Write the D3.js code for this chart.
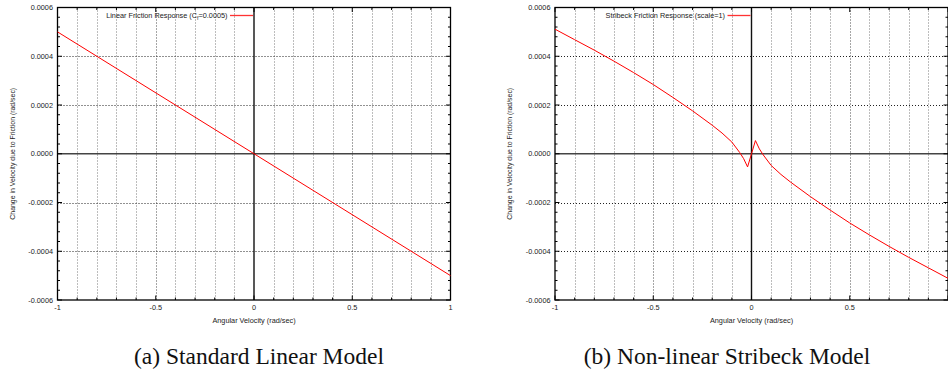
<!DOCTYPE html>
<html><head><meta charset="utf-8">
<script src="https://cdn.jsdelivr.net/npm/d3@7"></script>
<style>
html,body{margin:0;padding:0;background:#fff;}
svg{display:block;}
</style></head>
<body>
<svg id="chart" width="948" height="375"></svg>
<script>
// ---- data ----
const xTicks = [-1, -0.5, 0, 0.5, 1];
const xTickLabels = ["-1", "-0.5", "0", "0.5", "1"];
const xMinorTicks = [-0.9,-0.8,-0.7,-0.6,-0.4,-0.3,-0.2,-0.1,0.1,0.2,0.3,0.4,0.6,0.7,0.8,0.9];
const yTicks = [0.0006, 0.0004, 0.0002, 0, -0.0002, -0.0004, -0.0006];
const yTickLabels = ["0.0006","0.0004","0.0002","0.0000","-0.0002","-0.0004","-0.0006"];
const yMinorTicks = [0.00056,0.00052,0.00048,0.00044,0.00036,0.00032,0.00028,0.00024,0.00016,0.00012,0.00008,0.00004,
                     -0.00004,-0.00008,-0.00012,-0.00016,-0.00024,-0.00028,-0.00032,-0.00036,-0.00044,-0.00048,-0.00052,-0.00056];

const linearX = [-1, 1];
const linearY = [0.0005, -0.0005];

const stribeckX = [-1, -0.9, -0.8, -0.7, -0.6, -0.5, -0.4, -0.3, -0.2, -0.15, -0.1, -0.06, -0.04, -0.02, 0,
                   0.02, 0.04, 0.06, 0.1, 0.15, 0.2, 0.3, 0.4, 0.5, 0.6, 0.7, 0.8, 0.9, 1];
const stribeckY = [0.000511, 0.000468, 0.000425, 0.000380, 0.000333, 0.000284, 0.000231, 0.000176, 0.000117, 0.000085, 0.000048, 0.000005, -0.000020, -0.000054, 0,
                   0.000054, 0.000020, -0.000005, -0.000048, -0.000085, -0.000117, -0.000176, -0.000231, -0.000284, -0.000333, -0.000380, -0.000425, -0.000468, -0.000511];

const xTitle = "Angular Velocity (rad/sec)";
const yTitle = "Change in Velocity due to Friction (rad/sec)";
const captions = ["(a) Standard Linear Model", "(b) Non-linear Stribeck Model"];

// ---- drawing ----
const svg = d3.select("#chart");
const font = "'Liberation Sans', Arial, Helvetica, sans-serif";

const panels = [
  { left: 57.5, xs: linearX, ys: linearY, legend: ["Linear Friction Response (C", "f", "=0.0005)"], caption: captions[0], capX: 259, lastLabel: true },
  { left: 555, xs: stribeckX, ys: stribeckY, legend: ["Stribeck Friction Response (scale=1)"], caption: captions[1], capX: 727, lastLabel: false }
];
const W = 393, plotTop = 7.5, plotBottom = 300;

panels.forEach(p => {
  const x = d3.scaleLinear().domain([-1, 1]).range([p.left, p.left + W]);
  const y = d3.scaleLinear().domain([-0.0006, 0.0006]).range([plotBottom, plotTop]);
  const g = svg.append("g");

  // vertical grid (major + minor)
  const allX = xTicks.concat(xMinorTicks).filter(v => v !== 0 && Math.abs(v) !== 1);
  g.selectAll("line.vg").data(allX).join("line")
    .attr("x1", d => Math.round(x(d)) + 0.5).attr("x2", d => Math.round(x(d)) + 0.5)
    .attr("y1", plotTop).attr("y2", plotBottom)
    .attr("stroke", "#444").attr("stroke-width", 1).attr("stroke-dasharray", "1,2")
    .attr("opacity", d => (Math.abs(d) === 0.5 ? 0.95 : 0.7));
  // horizontal grid
  g.selectAll("line.hg").data(yTicks.filter(v => v !== 0 && Math.abs(v) < 0.0006)).join("line")
    .attr("x1", x(-1)).attr("x2", x(1))
    .attr("y1", d => Math.round(y(d)) + 0.5).attr("y2", d => Math.round(y(d)) + 0.5)
    .attr("stroke", "#222").attr("stroke-width", 1).attr("stroke-dasharray", "1,2");

  // zero axes
  g.append("line").attr("x1", x(-1)).attr("x2", x(1)).attr("y1", y(0)).attr("y2", y(0))
    .attr("stroke", "#444").attr("stroke-width", 1.6);
  g.append("line").attr("x1", x(0)).attr("x2", x(0)).attr("y1", plotTop).attr("y2", plotBottom)
    .attr("stroke", "#111").attr("stroke-width", 1.4);

  // ticks
  const tk = (vals, len) => {
    vals.forEach(v => {
      const yy = y(v);
      g.append("line").attr("x1", x(-1)).attr("x2", x(-1) + len).attr("y1", yy).attr("y2", yy).attr("stroke", "#000").attr("stroke-width", 1);
      g.append("line").attr("x1", x(1)).attr("x2", x(1) - len).attr("y1", yy).attr("y2", yy).attr("stroke", "#000").attr("stroke-width", 1);
    });
  };
  tk(yTicks, 4.5);
  tk(yMinorTicks, 2.5);
  const tkx = (vals, len) => {
    vals.forEach(v => {
      const xx = x(v);
      g.append("line").attr("x1", xx).attr("x2", xx).attr("y1", plotBottom).attr("y2", plotBottom - len).attr("stroke", "#000").attr("stroke-width", 1);
      g.append("line").attr("x1", xx).attr("x2", xx).attr("y1", plotTop).attr("y2", plotTop + len).attr("stroke", "#000").attr("stroke-width", 1);
    });
  };
  tkx(xTicks, 4.5);
  tkx(xMinorTicks, 2.5);

  // border
  g.append("rect").attr("x", x(-1)).attr("y", plotTop).attr("width", W).attr("height", plotBottom - plotTop)
    .attr("fill", "none").attr("stroke", "#000").attr("stroke-width", 1.3);

  // tick labels
  g.selectAll("text.yl").data(yTicks).join("text")
    .attr("x", x(-1) - 4.5).attr("y", (d) => y(d) + 2.5)
    .attr("text-anchor", "end").attr("font-family", font).attr("font-size", 7.3).attr("fill", "#222")
    .text((d, i) => yTickLabels[i]);
  const xl = p.lastLabel ? xTicks : xTicks.slice(0, -1);
  g.selectAll("text.xl").data(xl).join("text")
    .attr("x", d => x(d)).attr("y", plotBottom + 9.5)
    .attr("text-anchor", "middle").attr("font-family", font).attr("font-size", 7.3).attr("fill", "#222")
    .text((d, i) => xTickLabels[i]);

  // axis titles
  g.append("text").attr("x", x(0)).attr("y", 322.5).attr("text-anchor", "middle")
    .attr("font-family", font).attr("font-size", 7.3).attr("fill", "#222").text(xTitle);
  g.append("text").attr("transform", `translate(${p.left - 43},${(plotTop + plotBottom) / 2}) rotate(-90)`)
    .attr("text-anchor", "middle").attr("font-family", font).attr("font-size", 6.9).attr("fill", "#222").text(yTitle);

  // curve
  const pts = p.xs.map((v, i) => [v, p.ys[i]]);
  g.append("path").datum(pts)
    .attr("d", d3.line().x(d => x(d[0])).y(d => y(d[1])))
    .attr("fill", "none").attr("stroke", "#f00").attr("stroke-width", 1);

  // legend
  const lt = g.append("text").attr("x", x(0) - 26.5).attr("y", 17.8).attr("text-anchor", "end")
    .attr("font-family", font).attr("font-size", 7.3).attr("fill", "#222");
  lt.append("tspan").text(p.legend[0]);
  if (p.legend.length > 1) {
    lt.append("tspan").attr("font-size", 5.2).attr("dy", 2).text(p.legend[1]);
    lt.append("tspan").attr("dy", -2).text(p.legend[2]);
  }
  g.append("line").attr("x1", x(0) - 24).attr("x2", x(0) - 1).attr("y1", 15.5).attr("y2", 15.5)
    .attr("stroke", "#f33").attr("stroke-width", 1.3);

  // caption
  svg.append("text").attr("x", p.capX).attr("y", 364).attr("text-anchor", "middle")
    .attr("font-family", "'Liberation Serif', 'Times New Roman', serif").attr("font-size", 23.5).attr("fill", "#111")
    .text(p.caption);
});
</script>
</body></html>
